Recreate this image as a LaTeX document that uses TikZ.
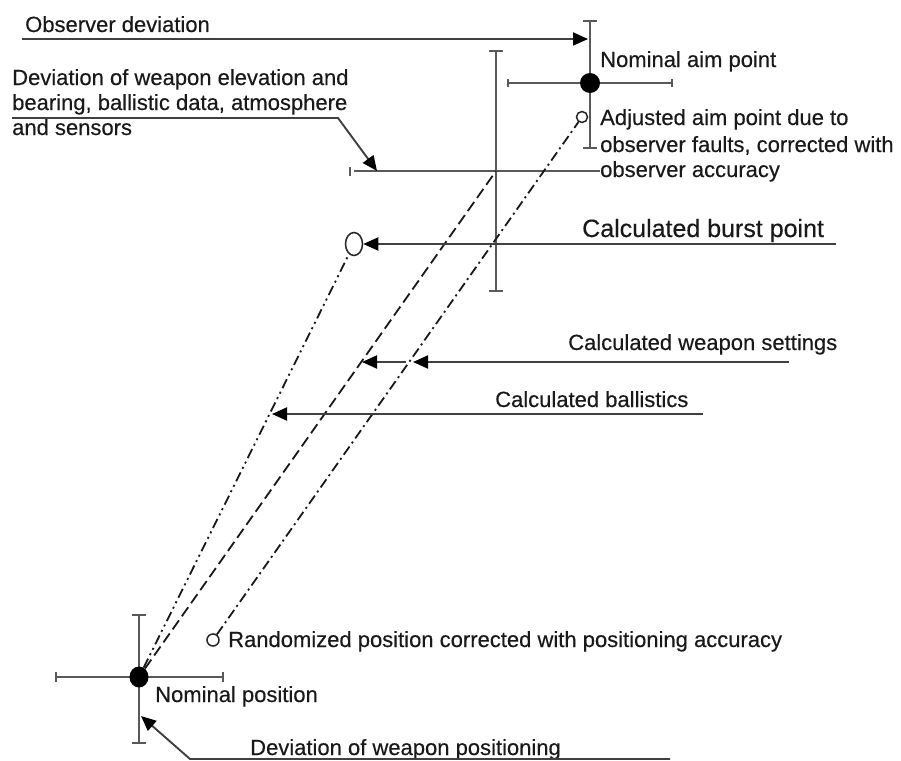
\documentclass[tikz,border=0pt]{standalone}
\usepackage{fontspec}
\setmainfont{Liberation Sans}[FakeBold=0.3]
\usetikzlibrary{arrows.meta,shapes.geometric}
\begin{document}
\begin{tikzpicture}[x=1pt,y=-1pt,
  crossln/.style={draw=black!65,line width=1.9pt},
  tickln/.style={draw=black!65,line width=1.5pt},
  arr/.style={draw=black!75,line width=1.9pt,-{Triangle[length=15pt,width=13pt,color=black]}},
  lbl/.style={anchor=base west,inner sep=0pt,text=black!90,font=\fontsize{22}{26}\selectfont},
  biglbl/.style={anchor=base west,inner sep=0pt,text=black!90,font=\fontsize{25}{30}\selectfont},
  dashln/.style={line width=1.8pt,draw=black!90,dash pattern=on 11pt off 5pt},
  dashdot/.style={line width=1.8pt,draw=black!90,dash pattern=on 10pt off 4pt on 2pt off 4pt},
  dashdotdot/.style={line width=1.8pt,draw=black!90,dash pattern=on 10pt off 4pt on 2pt off 4pt on 2pt off 4pt},
  fulldot/.style={fill=black,draw=none,inner sep=0pt},
  opendot/.style={draw=black!85,fill=white,line width=1.5pt,inner sep=0pt}
]
\fill[white] (0,0) rectangle (901,760);
\useasboundingbox (0,0) rectangle (901,760);

% crosses
\draw[crossln] (590,21) -- (590,148);
\draw[tickln] (583,21) -- (597,21) (583,148) -- (597,148);
\draw[crossln] (508,83) -- (672,83);
\draw[tickln] (508,79) -- (508,87) (672,79) -- (672,87);

\draw[crossln] (496,51) -- (496,291);
\draw[tickln] (489,51) -- (503,51) (489,291) -- (503,291);
\draw[crossln] (354,171) -- (600,171);
\draw[tickln] (350,167) -- (350,176);

\draw[crossln] (139,615) -- (139,743);
\draw[tickln] (132,615) -- (146,615) (132,743) -- (146,743);
\draw[crossln] (56,677) -- (223,677);
\draw[tickln] (56,672) -- (56,682) (223,672) -- (223,682);

% points
\coordinate (c2) at (496,171);
\node[fulldot,circle,minimum size=20pt] (aim) at (590,83) {};
\node[opendot,circle,minimum size=11pt] (adj) at (582,117) {};
\node[opendot,ellipse,minimum width=17pt,minimum height=23pt] (burst) at (354,244) {};
\node[opendot,circle,minimum size=12pt] (rand) at (213,640) {};
\node[fulldot,ellipse,minimum width=19pt,minimum height=21pt] (npos) at (139,677) {};

% trajectories
\draw[dashln] (npos) -- (c2);
\draw[dashdot] (rand) -- (adj);
\draw[dashdotdot] (npos) -- (burst);

% labels
\node[lbl] (obs) at (25,32) {Observer deviation};
\node[lbl] (dev1) at (12,85) {Deviation of weapon elevation and};
\node[lbl] (dev2) at (12,110) {bearing, ballistic data, atmosphere};
\node[lbl] (dev3) at (12,135) {and sensors};
\node[lbl] (aimlbl) at (600,67) {Nominal aim point};
\node[lbl] (adj1) at (600,125) {Adjusted aim point due to};
\node[lbl] (adj2) at (600,152) {observer faults, corrected with};
\node[lbl] (adj3) at (600,177) {observer accuracy};
\node[biglbl] (burstlbl) at (582,237) {Calculated burst point};
\node[lbl] (wslbl) at (568,350) {Calculated weapon settings};
\node[lbl] (ballbl) at (495,407) {Calculated ballistics};
\node[lbl] (randlbl) at (228,647) {Randomized position corrected with positioning accuracy};
\node[lbl] (nposlbl) at (155,702) {Nominal position};
\node[lbl] (devposlbl) at (250,755) {Deviation of weapon positioning};

% arrows
\coordinate (obsS) at (22,39);
\coordinate (obsT) at (588,39);
\draw[arr] (obsS) -- (obsT);

\coordinate (devS) at (12,118);
\coordinate (devK) at (338,118);
\coordinate (devT) at (377,171);
\draw[arr] (devS) -- (devK) -- (devT);

\coordinate (burstS) at (836,244);
\draw[arr] (burstS) -- (burst.east);

\coordinate (wsS) at (789,362);
\coordinate (wsT1) at (413,362);
\coordinate (wsS2) at (406,362);
\coordinate (wsT2) at (362,362);
\draw[arr] (wsS) -- (wsT1);
\draw[arr] (wsS2) -- (wsT2);

\coordinate (balS) at (703,414);
\coordinate (balT) at (272,414);
\draw[arr] (balS) -- (balT);

\coordinate (dpS) at (670,759);
\coordinate (dpK) at (190,759);
\coordinate (dpT) at (141,716);
\draw[arr] (dpS) -- (dpK) -- (dpT);
\end{tikzpicture}
\end{document}
